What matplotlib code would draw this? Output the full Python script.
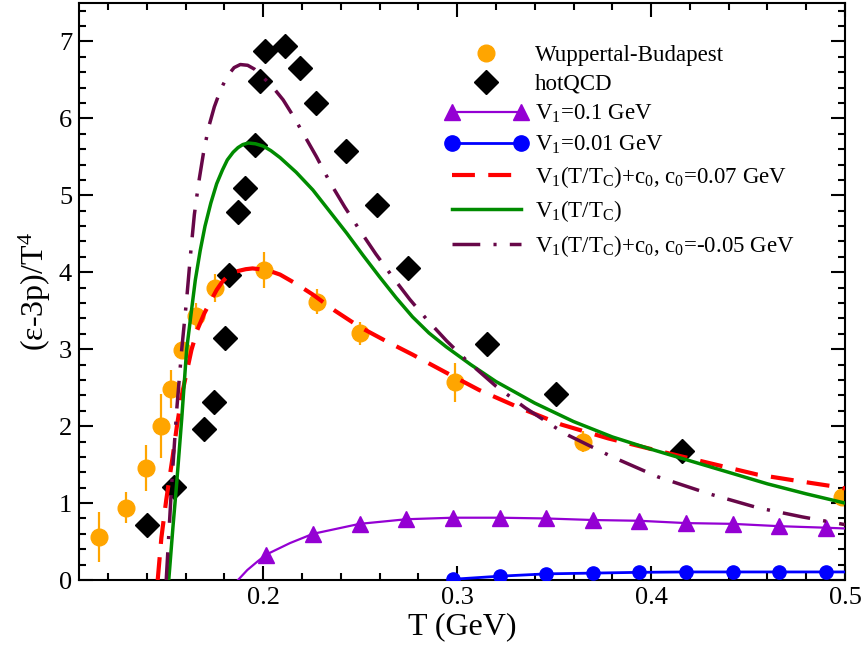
import matplotlib
matplotlib.use("Agg")
import matplotlib.pyplot as plt
from matplotlib.lines import Line2D
from matplotlib.legend_handler import HandlerLine2D
from matplotlib.ticker import MultipleLocator

plt.rcParams['font.family'] = ['Liberation Serif', 'DejaVu Serif']
plt.rcParams['mathtext.fontset'] = 'custom'
plt.rcParams['mathtext.rm'] = 'Liberation Serif'
plt.rcParams['mathtext.it'] = 'Liberation Serif:italic'
plt.rcParams['mathtext.bf'] = 'Liberation Serif:bold'

# lattice data: Wuppertal-Budapest (T in GeV, (e-3p)/T^4, error)
wb_T = [0.1154, 0.1292, 0.1395, 0.1472, 0.1523, 0.1580, 0.1656, 0.1749,
        0.2005, 0.2277, 0.2500, 0.2988, 0.3651, 0.4985]
wb_I = [0.56, 0.94, 1.46, 2.00, 2.48, 2.99, 3.43, 3.80,
        4.03, 3.62, 3.21, 2.57, 1.80, 1.08]
wb_err = [0.32, 0.20, 0.30, 0.42, 0.25, 0.10, 0.17, 0.18,
          0.23, 0.16, 0.15, 0.25, 0.14, 0.05]

# hotQCD
hot_T = [0.1400, 0.1538, 0.1697, 0.1744, 0.1805, 0.1826, 0.1872, 0.1908,
         0.1959, 0.1985, 0.2010, 0.2113, 0.2190, 0.2272, 0.2426, 0.2585,
         0.2749, 0.3154, 0.3508, 0.4159]
hot_I = [0.72, 1.21, 1.96, 2.32, 3.15, 3.97, 4.78, 5.09,
         5.66, 6.49, 6.87, 6.94, 6.66, 6.20, 5.58, 4.88,
         4.05, 3.07, 2.42, 1.68]

# model curves
v1_T = [0.1870, 0.1918, 0.1970, 0.2015, 0.2138, 0.2256, 0.2497, 0.2738,
        0.2979, 0.3220, 0.3460, 0.3700, 0.3940, 0.4180, 0.4420, 0.4660,
        0.4900, 0.5000]
v1_I = [0.00, 0.13, 0.24, 0.33, 0.48, 0.60, 0.73, 0.79,
        0.81, 0.81, 0.80, 0.78, 0.77, 0.74, 0.73, 0.70,
        0.68, 0.67]
v1_marks = [3, 5, 6, 7, 8, 9, 10, 11, 12, 13, 14, 15, 16]

v01_T = [0.2979, 0.3220, 0.3460, 0.3700, 0.3940, 0.4180, 0.4420, 0.4660,
         0.4900, 0.5000]
v01_I = [0.01, 0.05, 0.08, 0.09, 0.10, 0.105, 0.105, 0.105, 0.105, 0.105]
v01_marks = [0, 1, 2, 3, 4, 5, 6, 7, 8]

red_T = [0.1456, 0.1475, 0.1500, 0.1533, 0.1555, 0.1580, 0.1630, 0.1660,
         0.1697, 0.1730, 0.1760, 0.1790, 0.1826, 0.1860, 0.1910, 0.1945,
         0.1980, 0.2030, 0.2087, 0.2170, 0.2256, 0.2370, 0.2497, 0.2630,
         0.2770, 0.2940, 0.3113, 0.3320, 0.3538, 0.3780, 0.4036, 0.4300,
         0.4549, 0.4750, 0.4959, 0.5000]
red_I = [0.00, 0.55, 1.04, 1.60, 2.00, 2.40, 2.99, 3.25,
         3.47, 3.63, 3.77, 3.88, 3.97, 4.01, 4.04, 4.05,
         4.04, 4.02, 3.97, 3.85, 3.71, 3.50, 3.29, 3.11,
         2.93, 2.70, 2.47, 2.24, 2.02, 1.84, 1.68, 1.52,
         1.37, 1.29, 1.21, 1.19]

green_T = [0.1513, 0.1535, 0.1554, 0.1580, 0.1605, 0.1630, 0.1650, 0.1675,
           0.1700, 0.1730, 0.1760, 0.1790, 0.1815, 0.1845, 0.1870, 0.1895,
           0.1923, 0.1960, 0.2000, 0.2040, 0.2087, 0.2170, 0.2256, 0.2340,
           0.2430, 0.2515, 0.2600, 0.2685, 0.2770, 0.2855, 0.2944, 0.3070,
           0.3200, 0.3400, 0.3600, 0.3800, 0.4000, 0.4200, 0.4400, 0.4600,
           0.4800, 0.5000]
green_I = [0.00, 0.70, 1.26, 2.10, 2.99, 3.50, 3.90, 4.28,
           4.60, 4.90, 5.15, 5.33, 5.46, 5.56, 5.62, 5.66,
           5.68, 5.67, 5.64, 5.58, 5.49, 5.30, 5.07, 4.80,
           4.51, 4.22, 3.94, 3.67, 3.42, 3.21, 3.03, 2.80,
           2.58, 2.30, 2.06, 1.86, 1.70, 1.55, 1.40, 1.25,
           1.12, 1.00]

purple_T = [0.1500, 0.1527, 0.1554, 0.1580, 0.1605, 0.1626, 0.1645, 0.1667,
            0.1692, 0.1718, 0.1748, 0.1780, 0.1815, 0.1850, 0.1882, 0.1920,
            0.1955, 0.1985, 0.2045, 0.2103, 0.2155, 0.2205, 0.2275, 0.2344,
            0.2420, 0.2497, 0.2580, 0.2667, 0.2755, 0.2846, 0.2945, 0.3046,
            0.3200, 0.3350, 0.3508, 0.3574, 0.3800, 0.4036, 0.4300, 0.4549,
            0.4780, 0.5000]
purple_I = [0.00, 1.20, 2.21, 3.00, 3.64, 4.25, 4.75, 5.16,
            5.55, 5.88, 6.15, 6.37, 6.55, 6.66, 6.70, 6.69,
            6.64, 6.57, 6.42, 6.24, 6.03, 5.81, 5.50, 5.17,
            4.85, 4.55, 4.24, 3.94, 3.65, 3.38, 3.11, 2.86,
            2.52, 2.24, 1.98, 1.88, 1.60, 1.34, 1.12, 0.94,
            0.82, 0.72]

orange = '#FFA500'
violet = '#9400D3'
maroon = '#670748'
green4 = '#008B00'

fig = plt.figure(figsize=(8.62, 6.48), dpi=100)
ax = fig.add_axes([0.0916, 0.1049, 0.8887, 0.8905])

# data points below the curves
ax.errorbar(wb_T, wb_I, yerr=wb_err, fmt='none', ecolor=orange,
            elinewidth=1.6, capsize=0, zorder=2)
h_wb, = ax.plot(wb_T, wb_I, 'o', color=orange, ms=12, zorder=2,
                label='Wuppertal-Budapest')
h_hot, = ax.plot(hot_T, hot_I, 'D', color='black', ms=12, zorder=2,
                 label='hotQCD')

ax.plot(v1_T, v1_I, '-', color=violet, lw=1.6, marker='^', ms=11,
        markevery=v1_marks, zorder=3)
ax.plot(v01_T, v01_I, '-', color='blue', lw=2.0, marker='o', ms=9.5,
        markevery=v01_marks, zorder=3)
h_red, = ax.plot(red_T, red_I, color='red', lw=3.0, dashes=(5.5, 3.2),
                 zorder=3, label=r'V$_1$(T/T$_{\mathrm{C}}$)+c$_0$, c$_0$=0.07 GeV')
h_green, = ax.plot(green_T, green_I, color=green4, lw=2.5, zorder=3,
                   label=r'V$_1$(T/T$_{\mathrm{C}}$)')
h_purple, = ax.plot(purple_T, purple_I, color=maroon, lw=2.5,
                    dashes=(8, 3.8, 0.9, 3.8), zorder=3,
                    label=r'V$_1$(T/T$_{\mathrm{C}}$)+c$_0$, c$_0$=-0.05 GeV')

# legend proxies for the lines with markers
h_v1 = Line2D([], [], color=violet, lw=1.6, marker='^', ms=11,
              label=r'V$_1$=0.1 GeV')
h_v01 = Line2D([], [], color='blue', lw=2.0, marker='o', ms=11,
               label=r'V$_1$=0.01 GeV')

handles = [h_wb, h_hot, h_v1, h_v01, h_red, h_green, h_purple]
ax.legend(handles=handles, loc='upper left', bbox_to_anchor=(0.478, 0.928),
          frameon=False, fontsize=16.5, numpoints=2, handlelength=3.6,
          handletextpad=0.3, borderpad=0, borderaxespad=0, labelspacing=0.36,
          handler_map={h_wb: HandlerLine2D(numpoints=1),
                       h_hot: HandlerLine2D(numpoints=1)})

ax.set_xlim(0.105, 0.5)
ax.set_ylim(0, 7.5)
ax.xaxis.set_major_locator(MultipleLocator(0.1))
ax.xaxis.set_minor_locator(MultipleLocator(0.02))
ax.yaxis.set_major_locator(MultipleLocator(1))
ax.yaxis.set_minor_locator(MultipleLocator(0.2))
ax.tick_params(which='both', direction='in', top=True, right=True,
               width=1.5, labelsize=19, pad=5)
ax.tick_params(which='major', length=10)
ax.tick_params(which='minor', length=5)
for s in ax.spines.values():
    s.set_linewidth(1.5)

ax.set_xlabel('T (GeV)', fontsize=23, labelpad=2)
ax.set_ylabel(r'(ε-3p)/T$^4$', fontsize=23, labelpad=4)

fig.savefig('out.png', dpi=100)
